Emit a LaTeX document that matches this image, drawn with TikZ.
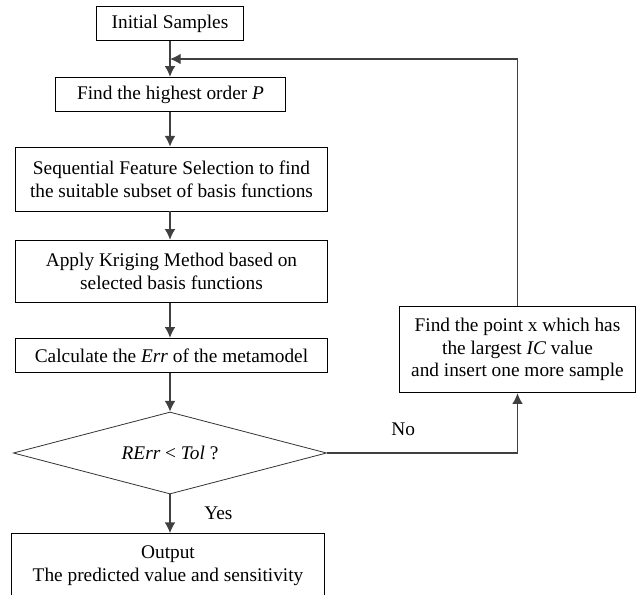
\documentclass[tikz,border=0pt]{standalone}
\usepackage{fontspec}
\setmainfont{Liberation Serif}
\usetikzlibrary{arrows.meta,positioning,shapes.geometric}

\tikzset{
  stepbox/.style={rectangle,draw=black,line width=0.6pt,align=center,inner sep=2pt},
  testbox/.style={diamond,draw=black!80,line width=0.6pt,aspect=3.8,inner sep=1pt},
  flow/.style={-{Latex[length=8pt,width=8pt]},draw=black!75,line width=0.9pt}
}

\begin{document}
\begin{tikzpicture}[x=0.75pt,y=-0.75pt,font=\fontsize{14.5}{17}\selectfont]
  \useasboundingbox (0,0) rectangle (636,594);
  \node[stepbox,minimum width=110pt,minimum height=26pt] (init) at (170,23.5){Initial Samples};
  \node[stepbox,minimum width=173pt,minimum height=26pt] (ord) at (170.5,94.5){Find the highest order \textit{P}};
    \draw[flow] (init.south) to (init.south |- ord.north);
  \node[stepbox,minimum width=234pt,minimum height=48pt] (sfs) at (171.5,179){Sequential Feature Selection to find\\the suitable subset of basis functions};
    \draw[flow] (init.south |- ord.south) to (init.south |- sfs.north);
  \node[stepbox,minimum width=234pt,minimum height=47pt] (krig) at (171.5,271.5){Apply Kriging Method based on\\selected basis functions};
    \draw[flow] (init.south |- sfs.south) to (init.south |- krig.north);
  \node[stepbox,minimum width=234pt,minimum height=26pt] (err) at (171.5,355.5){Calculate the \textit{Err} of the metamodel};
    \draw[flow] (init.south |- krig.south) to (init.south |- err.north);
  \node[testbox,minimum width=235pt,minimum height=61.5pt] (test) at (170,453){\textit{RErr} {\textless} \textit{Tol} ?};
    \draw[flow] (init.south |- err.south) to (test.north);
  \node[stepbox,minimum width=235pt,minimum height=48pt] (out) at (168,565.5){Output\\The predicted value and sensitivity};
    \draw[flow] (test.south) to node[right=22pt]{Yes} (test.south |- out.north);
  \node[stepbox,minimum width=177pt,minimum height=65pt] (fix) at (517.5,349.5){Find the point x which has\\the largest \textit{IC} value\\and insert one more sample};
    \draw[flow] (test.east) -| node[pos=0.2,above=9pt]{No} (fix.south);
  \coordinate (back) at (170,59);
    \draw[flow] (fix.north) |- (back);

\end{tikzpicture}
\end{document}
